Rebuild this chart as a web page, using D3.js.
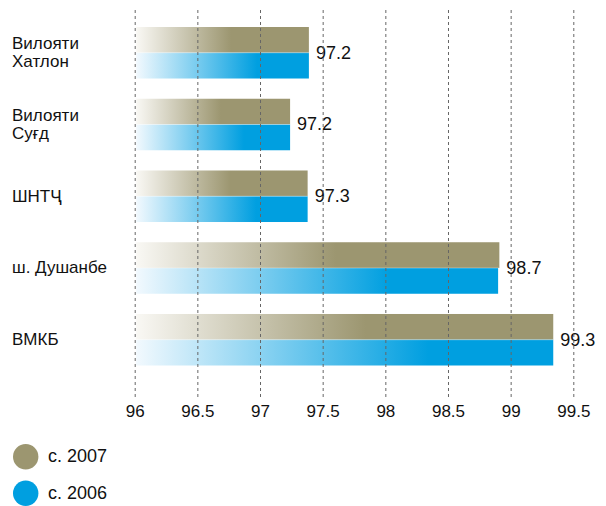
<!DOCTYPE html>
<html>
<head>
<meta charset="utf-8">
<script src="https://cdn.jsdelivr.net/npm/d3@7"></script>
<style>
  body { margin: 0; background: #fff; }
  svg { display: block; font-family: Arial, "Liberation Sans", sans-serif; }
</style>
</head>
<body>
<div id="frame"></div>
<script>
'use strict'

// data
var categories = [["Вилояти", "Хатлон"], ["Вилояти", "Суғд"], ["ШНТҶ"], ["ш. Душанбе"], ["ВМКБ"]]
var series = ["с. 2007", "с. 2006"]
var values2007 = [97.39, 97.24, 97.38, 98.91, 99.34]
var values2006 = [97.39, 97.24, 97.38, 98.90, 99.34]
var valueLabels = ["97.2", "97.2", "97.3", "98.7", "99.3"]
var ticks = [96, 96.5, 97, 97.5, 98, 98.5, 99, 99.5]
var colors = ["#9c9670", "#009fe0"]
var fades = ["#f9f8f4", "#f2f9fe"]
var solidAt = ["55%", "70%"]

var W = 606, H = 506

var svg = d3.select("#frame")
  .append("svg")
  .attr("width", W)
  .attr("height", H)

var defs = svg.append("defs")
series.forEach(function(s, i) {
  var g = defs.append("linearGradient")
    .attr("id", "grad" + i)
    .attr("x1", "0%").attr("x2", "100%")
    .attr("y1", "0%").attr("y2", "0%")
  g.append("stop").attr("offset", "0%").attr("stop-color", fades[i])
  g.append("stop").attr("offset", solidAt[i]).attr("stop-color", colors[i])
  g.append("stop").attr("offset", "100%").attr("stop-color", colors[i])
})

var x = d3.scaleLinear().domain([96, 99.5]).range([134.7, 573.3])

var y = d3.scaleBand()
  .domain(d3.range(categories.length))
  .range([27, 365.5])
  .paddingInner(0.282)
  .paddingOuter(0)

var ySub = d3.scaleBand()
  .domain(d3.range(series.length))
  .range([0, y.bandwidth()])

var rows = categories.map(function(c, i) {
  return { name: c, vals: [values2007[i], values2006[i]], label: valueLabels[i] }
})

var groups = svg.append("g").attr("class", "bars")
  .selectAll("g")
  .data(rows)
  .enter().append("g")
  .attr("transform", (d, i) => "translate(0," + y(i) + ")")

groups.selectAll("rect")
  .data(d => d.vals)
  .enter().append("rect")
  .attr("x", x(96) + 1.5)
  .attr("y", (d, j) => ySub(j))
  .attr("width", d => x(d) - x(96) - 1.5)
  .attr("height", ySub.bandwidth())
  .style("fill", (d, j) => "url(#grad" + j + ")")

// thin light seam between the two bars
groups.append("line")
  .attr("x1", x(96) + 1.5)
  .attr("x2", d => x(d3.max(d.vals)))
  .attr("y1", ySub(1))
  .attr("y2", ySub(1))
  .style("stroke", "#ffffff")
  .style("stroke-opacity", 0.35)
  .style("stroke-width", 1)

// value labels
groups.append("text")
  .attr("x", d => x(d3.max(d.vals)) + 7)
  .attr("y", y.bandwidth() / 2 + 6)
  .style("font-size", "18px")
  .style("fill", "#111")
  .text(d => d.label)

// category labels
var cat = svg.append("g").attr("class", "cats")
  .selectAll("text")
  .data(rows)
  .enter().append("text")
  .attr("x", 12)
  .attr("y", (d, i) => y(i) + y.bandwidth() / 2 + 5.5 - (d.name.length - 1) * 9)
  .style("font-size", "17px")
  .style("fill", "#111")

cat.selectAll("tspan")
  .data(d => d.name)
  .enter().append("tspan")
  .attr("x", 12)
  .attr("dy", (d, k) => k === 0 ? 0 : 18)
  .text(d => d)

// dashed grid + tick labels
var axis = svg.append("g")
  .attr("transform", "translate(0,397)")
  .call(d3.axisBottom(x).tickValues(ticks).tickSize(-390).tickFormat(d3.format("")))

axis.select(".domain").remove()
axis.selectAll(".tick line")
  .style("stroke", "#666")
  .style("stroke-dasharray", "3,3")
axis.selectAll(".tick text")
  .attr("y", 20)
  .attr("dy", null)
  .style("font-size", "17px")
  .style("font-family", "Arial, 'Liberation Sans', sans-serif")
  .style("fill", "#111")

// legend
var legend = svg.append("g").attr("class", "legend")
  .selectAll("g")
  .data(series)
  .enter().append("g")
  .attr("transform", (d, i) => "translate(0," + (456.7 + i * 36.5) + ")")

legend.append("circle")
  .attr("cx", 25.7)
  .attr("cy", 0)
  .attr("r", 12.7)
  .style("fill", (d, i) => colors[i])

legend.append("text")
  .attr("x", 48)
  .attr("y", 5.5)
  .style("font-size", "18px")
  .style("fill", "#111")
  .text(d => d)
</script>
</body>
</html>
